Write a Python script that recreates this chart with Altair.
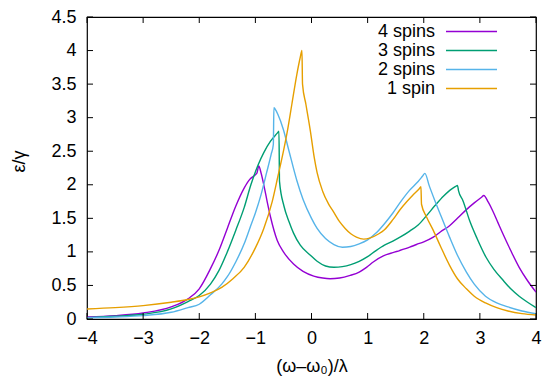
import altair as alt
import pandas as pd

# ---- data ----
series_names = ["4 spins", "3 spins", "2 spins", "1 spin"]
colors = ["#9400d3", "#009e73", "#56b4e9", "#e69f00"]

x4 = [-4, -3.5, -3, -2.5, -2.2, -2.0, -1.8, -1.65, -1.5, -1.35, -1.2, -1.1, -1.0, -0.97, -0.94,
      -0.9, -0.85, -0.79, -0.73, -0.61, -0.5, -0.32, -0.15, 0.04, 0.2, 0.33, 0.5, 0.69, 0.85,
      0.98, 1.1, 1.28, 1.45, 1.57, 1.75, 1.87, 2.0, 2.17, 2.3, 2.46, 2.6, 2.76, 2.9, 3.03, 3.07,
      3.15, 3.23, 3.32, 3.41, 3.55, 3.7, 3.85, 4.0]
y4 = [0.03, 0.05, 0.09, 0.18, 0.3, 0.45, 0.75, 1.02, 1.35, 1.68, 1.95, 2.08, 2.15, 2.18, 2.28,
      2.18, 2.0, 1.75, 1.52, 1.17, 1.0, 0.82, 0.71, 0.64, 0.61, 0.6, 0.61, 0.65, 0.7,
      0.77, 0.85, 0.94, 0.99, 1.02, 1.07, 1.11, 1.15, 1.22, 1.3, 1.39, 1.5, 1.63, 1.73, 1.815, 1.84,
      1.74, 1.61, 1.44, 1.27, 1.02, 0.77, 0.57, 0.40]

x3 = [-4, -3.5, -3, -2.5, -2.2, -2.0, -1.8, -1.65, -1.5, -1.35, -1.2, -1.08, -0.95, -0.85, -0.73,
      -0.61, -0.58, -0.57, -0.49, -0.4, -0.32, -0.2, -0.02, 0.1, 0.25, 0.4, 0.55, 0.7, 0.85, 1.0,
      1.15, 1.3, 1.45, 1.6, 1.75, 1.9, 2.05, 2.2, 2.35, 2.5, 2.57, 2.6, 2.62, 2.7, 2.82, 2.95,
      3.11, 3.25, 3.41, 3.55, 3.7, 3.85, 4.0]
y3 = [0.02, 0.04, 0.07, 0.15, 0.26, 0.35, 0.52, 0.72, 1.0, 1.32, 1.66, 2.0, 2.3, 2.48, 2.65,
      2.77, 2.8, 2.05, 1.68, 1.45, 1.28, 1.1, 0.95, 0.86, 0.79, 0.77, 0.78, 0.81, 0.86, 0.93,
      1.02, 1.1, 1.16, 1.23, 1.31, 1.4, 1.54, 1.69, 1.83, 1.94, 1.975, 1.99, 1.91, 1.76, 1.46, 1.2,
      0.92, 0.74, 0.58, 0.45, 0.34, 0.25, 0.17]

x2 = [-4, -3.5, -3, -2.5, -2.2, -2.0, -1.8, -1.6, -1.5, -1.35, -1.2, -1.1, -1.0, -0.9, -0.8,
      -0.72, -0.68, -0.67, -0.65, -0.6, -0.5, -0.4, -0.26, -0.15, 0.0, 0.1, 0.25, 0.4, 0.55, 0.7,
      0.85, 1.0, 1.15, 1.3, 1.45, 1.6, 1.75, 1.9, 1.98, 2.02, 2.1, 2.2, 2.3, 2.46, 2.6, 2.76, 2.9,
      3.1, 3.3, 3.5, 3.75, 4.0]
y2 = [0.02, 0.03, 0.05, 0.1, 0.17, 0.22, 0.36, 0.52, 0.63, 0.85, 1.12, 1.35, 1.58, 1.85, 2.18,
      2.45, 2.6, 3.15, 3.13, 3.05, 2.82, 2.5, 2.06, 1.78, 1.5, 1.35, 1.2, 1.11, 1.07, 1.08,
      1.12, 1.18, 1.28, 1.42, 1.58, 1.76, 1.92, 2.05, 2.13, 2.17, 1.98, 1.76, 1.55, 1.22, 0.95, 0.7,
      0.52, 0.34, 0.24, 0.18, 0.12, 0.08]

x1 = [-4, -3.5, -3, -2.5, -2.2, -2.0, -1.8, -1.6, -1.4, -1.2, -1.0, -0.85, -0.7, -0.6, -0.5,
      -0.43, -0.35, -0.26, -0.2, -0.17, -0.16, -0.1, -0.02, 0.05, 0.1, 0.2, 0.3, 0.39, 0.5, 0.6,
      0.7, 0.8, 0.93, 1.05, 1.2, 1.3, 1.45, 1.57, 1.7, 1.8, 1.92, 1.95, 1.96, 2.05, 2.17, 2.3,
      2.46, 2.6, 2.76, 2.9, 3.1, 3.3, 3.5, 3.75, 4.0]
y1 = [0.15, 0.17, 0.2, 0.25, 0.29, 0.33, 0.39, 0.47, 0.6, 0.77, 1.06, 1.35, 1.75, 2.12, 2.5,
      2.8, 3.2, 3.65, 3.9, 4.0, 3.5, 3.2, 2.8, 2.4, 2.18, 1.9, 1.72, 1.6, 1.45, 1.35,
      1.27, 1.22, 1.19, 1.21, 1.27, 1.33, 1.48, 1.62, 1.75, 1.84, 1.94, 1.97, 1.71, 1.52, 1.32, 1.08,
      0.8, 0.6, 0.45, 0.34, 0.24, 0.17, 0.12, 0.08, 0.06]

x_ticks = [-4, -3, -2, -1, 0, 1, 2, 3, 4]
y_ticks = [0, 0.5, 1, 1.5, 2, 2.5, 3, 3.5, 4, 4.5]

rows = []
for order, (name, xs, ys) in enumerate(zip(series_names, [x4, x3, x2, x1], [y4, y3, y2, y1])):
    for i, (xv, yv) in enumerate(zip(xs, ys)):
        rows.append({"series": name, "x": xv, "y": yv, "idx": i, "ord": order})
df = pd.DataFrame(rows)

W, H = 449, 302
FONT = "Liberation Sans"
FS = 18

xscale = alt.Scale(domain=[-4, 4], nice=False)
yscale = alt.Scale(domain=[0, 4.5], nice=False)

x_axis = alt.Axis(values=x_ticks, format="~g", title="(ω–ω₀)/λ",
                  titleBaseline="top", titleY=38, titleFontSize=FS,
                  titleFontWeight="normal")
y_axis = alt.Axis(values=y_ticks, format="~g", title="ε/γ",
                  titleX=-68, titleY=144, titleBaseline="middle", titleAngle=270,
                  titleFontSize=FS, titleFontWeight="normal")

lines = alt.Chart(df).mark_line(strokeWidth=1.4, clip=True, interpolate="monotone").encode(
    x=alt.X("x:Q", scale=xscale, axis=x_axis),
    y=alt.Y("y:Q", scale=yscale, axis=y_axis),
    color=alt.Color("series:N",
                    scale=alt.Scale(domain=series_names, range=colors),
                    legend=alt.Legend(title=None, orient="none", legendX=375, legendY=5,
                                      symbolType="M-3,0H3", symbolSize=289,
                                      symbolStrokeWidth=1.4, symbolFillColor="transparent",
                                      labelAlign="right",
                                      labelOffset={"expr": "-46"}, labelFontSize=FS,
                                      labelFont=FONT, rowPadding=0,
                                      labelColor="black")),
    order=alt.Order("idx:Q"),
    detail="series:N",
)

xt = pd.DataFrame({"t": x_ticks})
yt = pd.DataFrame({"t": y_ticks})
TL = 6
tick_bottom = alt.Chart(xt).mark_rule(color="black", strokeWidth=1).encode(
    x=alt.X("t:Q", scale=xscale, axis=x_axis), y=alt.value(H), y2=alt.value(H - TL))
tick_top = alt.Chart(xt).mark_rule(color="black", strokeWidth=1).encode(
    x=alt.X("t:Q", scale=xscale, axis=x_axis), y=alt.value(0), y2=alt.value(TL))
tick_left = alt.Chart(yt).mark_rule(color="black", strokeWidth=1).encode(
    y=alt.Y("t:Q", scale=yscale, axis=y_axis), x=alt.value(0), x2=alt.value(TL))
tick_right = alt.Chart(yt).mark_rule(color="black", strokeWidth=1).encode(
    y=alt.Y("t:Q", scale=yscale, axis=y_axis), x=alt.value(W), x2=alt.value(W - TL))

chart = alt.layer(lines, tick_bottom, tick_top, tick_left, tick_right).properties(
    width=W, height=H,
    autosize=alt.AutoSizeParams(type="none"),
    padding={"left": 79, "top": 9, "right": 6, "bottom": 58},
).configure_view(
    stroke="black", strokeWidth=1.2
).configure_axis(
    domain=False, ticks=False, grid=False, labelFont=FONT, titleFont=FONT,
    labelFontSize=FS, labelColor="black", titleColor="black", labelPadding=10,
    labelOverlap=False, labelFlush=False,
).configure_axisY(labelPadding=11)

chart.save("out.html", embed_options={"renderer": "svg", "actions": False})
